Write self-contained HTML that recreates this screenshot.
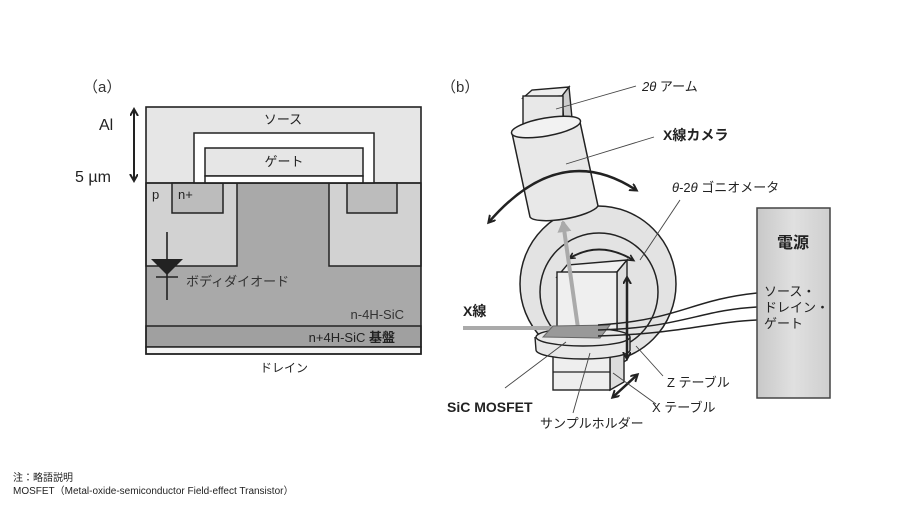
<!DOCTYPE html>
<html><head><meta charset="utf-8"><style>
body{margin:0;background:#fff;}
svg{display:block;font-family:"Liberation Sans","Noto Sans CJK JP",sans-serif;}
</style></head><body>
<svg width="900" height="510" viewBox="0 0 900 510" xmlns="http://www.w3.org/2000/svg">
<defs>
<marker id="ah" markerWidth="10" markerHeight="10" refX="6" refY="4" orient="auto-start-reverse" markerUnits="userSpaceOnUse"><path d="M0,0 L7,4 L0,8" fill="none" stroke="#222" stroke-width="2"/></marker>
<marker id="ahs" markerWidth="8" markerHeight="8" refX="5" refY="4" orient="auto-start-reverse" markerUnits="userSpaceOnUse"><path d="M0,1 L6,4 L0,7" fill="none" stroke="#222" stroke-width="1.6"/></marker>
<marker id="ahg" markerWidth="14" markerHeight="14" refX="10" refY="7" orient="auto" markerUnits="userSpaceOnUse"><path d="M0,0 L12,7 L0,14 z" fill="#aaa"/></marker>
<linearGradient id="pg" x1="0" x2="1"><stop offset="0" stop-color="#c8c8c8"/><stop offset="0.5" stop-color="#e0e0e0"/><stop offset="1" stop-color="#cfcfcf"/></linearGradient>
</defs>

<!-- (a) -->
<text x="83" y="92" font-size="15" fill="#333">（a）</text>
<rect x="146" y="107" width="275" height="76" fill="#e6e6e6"/>
<rect x="146" y="183" width="275" height="143" fill="#a9a9a9"/>
<rect x="146" y="183" width="91" height="83" fill="#d2d2d2" stroke="#222" stroke-width="1.5"/>
<rect x="329" y="183" width="92" height="83" fill="#d2d2d2" stroke="#222" stroke-width="1.5"/>
<rect x="172" y="183" width="51" height="30" fill="#bcbcbc" stroke="#222" stroke-width="1.5"/>
<rect x="347" y="183" width="50" height="30" fill="#bcbcbc" stroke="#222" stroke-width="1.5"/>
<rect x="146" y="326" width="275" height="21" fill="#a0a0a0" stroke="#222" stroke-width="1.5"/>
<rect x="146" y="347" width="275" height="7" fill="#f4f4f4" stroke="#222" stroke-width="1.5"/>
<rect x="194" y="133" width="180" height="50" fill="#fff" stroke="#222" stroke-width="1.5"/>
<rect x="205" y="148" width="158" height="28" fill="#e6e6e6" stroke="#222" stroke-width="1.5"/>
<rect x="205" y="176" width="158" height="7" fill="#fff" stroke="#222" stroke-width="1.5"/>
<rect x="146" y="107" width="275" height="247" fill="none" stroke="#222" stroke-width="1.6"/>
<line x1="146" y1="183" x2="421" y2="183" stroke="#222" stroke-width="1.5"/>
<text x="283" y="124" font-size="13" text-anchor="middle" fill="#222">ソース</text>
<text x="284" y="166" font-size="13" text-anchor="middle" fill="#222">ゲート</text>
<text x="152" y="199" font-size="13" fill="#222">p</text>
<text x="178" y="199" font-size="13" fill="#222">n+</text>
<text x="404" y="319" font-size="13" text-anchor="end" fill="#333">n-4H-SiC</text>
<text x="395" y="342" font-size="13" text-anchor="end" fill="#222">n+4H-SiC <tspan font-weight="bold">基盤</tspan></text>
<text x="284" y="372" font-size="12" text-anchor="middle" fill="#222">ドレイン</text>
<line x1="134" y1="110" x2="134" y2="180" stroke="#222" stroke-width="2" marker-start="url(#ah)" marker-end="url(#ah)"/>
<text x="99" y="130" font-size="16" fill="#222">Al</text>
<text x="75" y="182" font-size="16" fill="#222">5 µm</text>
<line x1="167" y1="232" x2="167" y2="300" stroke="#222" stroke-width="1.6"/>
<polygon points="151,259 183,259 167,275" fill="#222"/>
<line x1="156" y1="277" x2="178" y2="277" stroke="#222" stroke-width="1.6"/>
<text x="186" y="286" font-size="13" fill="#333">ボディダイオード</text>

<!-- (b) -->
<text x="441" y="92" font-size="15" fill="#333">（b）</text>
<circle cx="598" cy="284" r="78" fill="#e3e3e3" stroke="#222" stroke-width="1.5"/>
<circle cx="599" cy="292" r="59" fill="none" stroke="#222" stroke-width="1.5"/>
<!-- arm -->
<polygon points="523,98 532,90 569,87 562,96" fill="#eee" stroke="#222" stroke-width="1.4"/>
<polygon points="562,96 569,87 572,118 564,124" fill="#ccc" stroke="#222" stroke-width="1.4"/>
<rect x="523" y="96" width="40" height="30" fill="#e8e8e8" stroke="#222" stroke-width="1.4"/>
<!-- camera cylinder -->
<path d="M512,133 L530,217 A35,9 -10 0 0 598,206 L580,122" fill="#e8e8e8" stroke="#222" stroke-width="1.5"/>
<ellipse cx="546" cy="127" rx="35" ry="9" transform="rotate(-10 546 127)" fill="#f2f2f2" stroke="#222" stroke-width="1.5"/>
<path d="M489,222 Q560,140 636,190" fill="none" stroke="#222" stroke-width="2.5" marker-start="url(#ah)" marker-end="url(#ah)"/>
<!-- Z box -->
<polygon points="557,277 567,265 627,260 617,272" fill="#f0f0f0" stroke="#222" stroke-width="1.4"/>
<polygon points="617,272 627,260 627,360 617,366" fill="#ddd" stroke="#222" stroke-width="1.4"/>
<rect x="557" y="272" width="60" height="70" fill="#efefef" stroke="#222" stroke-width="1.4"/>
<!-- base box -->
<polygon points="610,355 624,350 624,382 610,390" fill="#ddd" stroke="#222" stroke-width="1.4"/>
<rect x="553" y="355" width="57" height="35" fill="#eee" stroke="#222" stroke-width="1.4"/>
<line x1="553" y1="372" x2="610" y2="372" stroke="#222" stroke-width="1.2"/>
<!-- holder -->
<path d="M535,337 L536,350 A47,9 0 0 0 630,350 L630,337" fill="#e8e8e8" stroke="#222" stroke-width="1.4"/>
<ellipse cx="583" cy="337" rx="47" ry="9" fill="#e8e8e8" stroke="#222" stroke-width="1.4"/>
<path d="M570,258 Q600,240 633,260" fill="none" stroke="#222" stroke-width="2" marker-start="url(#ahs)" marker-end="url(#ahs)"/>
<line x1="463" y1="328" x2="590" y2="328" stroke="#aaa" stroke-width="4"/>
<line x1="578" y1="328" x2="563" y2="222" stroke="#aaa" stroke-width="4" marker-end="url(#ahg)"/>
<polygon points="543,337 600,338 610,325 553,326" fill="#999" stroke="#666" stroke-width="1"/>
<g fill="none" stroke="#222" stroke-width="1.5">
<path d="M598,325 C680,320 690,300 757,293"/>
<path d="M598,330 C680,328 700,310 757,307"/>
<path d="M598,336 C680,334 710,322 757,320"/>
</g>
<line x1="627" y1="278" x2="627" y2="358" stroke="#222" stroke-width="2.5" marker-start="url(#ah)" marker-end="url(#ah)"/>
<line x1="613" y1="397" x2="637" y2="375" stroke="#222" stroke-width="2.5" marker-start="url(#ah)" marker-end="url(#ah)"/>
<rect x="757" y="208" width="73" height="190" fill="url(#pg)" stroke="#444" stroke-width="1.5"/>
<text x="793" y="248" font-size="16" font-weight="bold" text-anchor="middle" fill="#222">電源</text>
<text x="764" y="296" font-size="13" fill="#222">ソース・</text>
<text x="764" y="312" font-size="13" fill="#222">ドレイン・</text>
<text x="764" y="328" font-size="13" fill="#222">ゲート</text>
<g stroke="#444" stroke-width="0.9">
<line x1="556" y1="109" x2="636" y2="86"/>
<line x1="566" y1="164" x2="654" y2="137"/>
<line x1="640" y1="260" x2="680" y2="200"/>
<line x1="636" y1="346" x2="663" y2="376"/>
<line x1="613" y1="373" x2="656" y2="404"/>
<line x1="566" y1="342" x2="505" y2="388"/>
<line x1="590" y1="353" x2="573" y2="413"/>
</g>
<text x="642" y="91" font-size="13" fill="#222"><tspan font-style="italic">2θ</tspan> アーム</text>
<text x="663" y="140" font-size="14" font-weight="bold" fill="#222">X線カメラ</text>
<text x="672" y="192" font-size="13" fill="#222"><tspan font-style="italic">θ</tspan>-2<tspan font-style="italic">θ</tspan> ゴニオメータ</text>
<text x="463" y="316" font-size="14" font-weight="bold" fill="#222">X線</text>
<text x="667" y="387" font-size="13" fill="#222">Z テーブル</text>
<text x="652" y="412" font-size="13" fill="#222">X テーブル</text>
<text x="447" y="412" font-size="14" font-weight="bold" fill="#222">SiC MOSFET</text>
<text x="540" y="428" font-size="13" fill="#222">サンプルホルダー</text>

<text x="13" y="481" font-size="10" fill="#222">注：略語説明</text>
<text x="13" y="494" font-size="10" fill="#222">MOSFET（Metal-oxide-semiconductor Field-effect Transistor）</text>
</svg>
</body></html>
